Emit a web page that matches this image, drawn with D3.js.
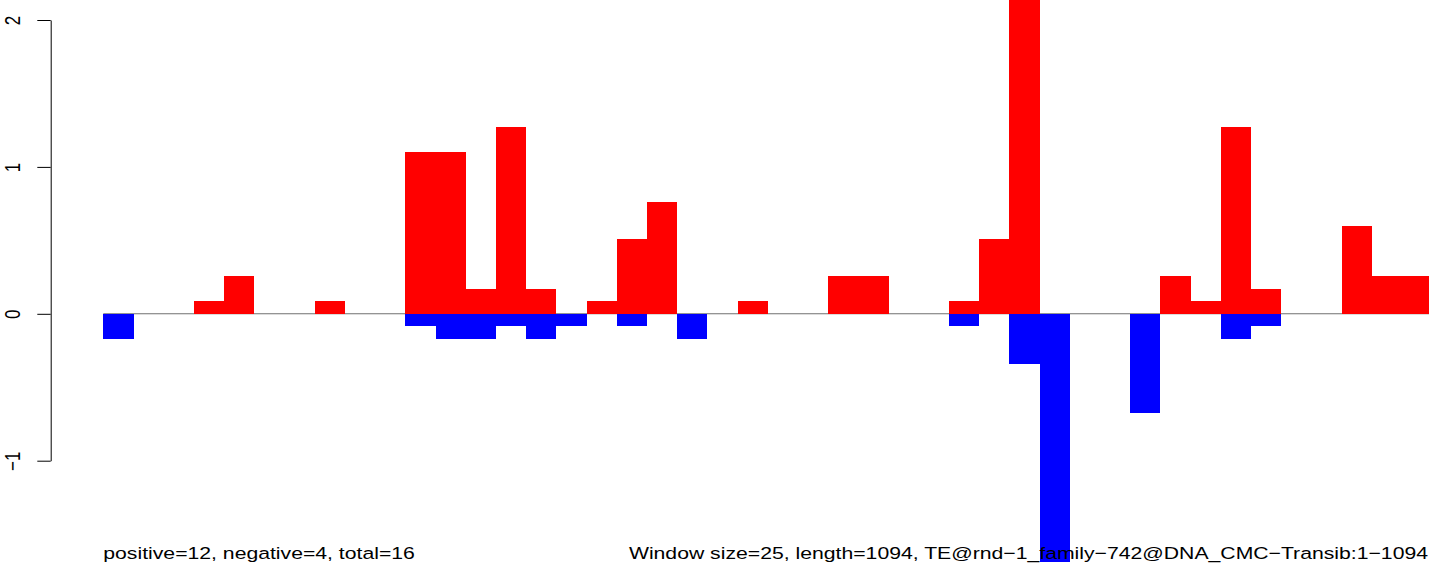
<!DOCTYPE html>
<html>
<head>
<meta charset="utf-8">
<script src="https://cdn.jsdelivr.net/npm/d3@7"></script>
<style>
  html, body { margin: 0; padding: 0; background: #fff; }
  svg { display: block; }
</style>
</head>
<body>
<script>
// ---- data ----
const windowSize = 25;
const seqLength = 1094;
const windowCount = 44;
const positive = [0,0,0,0.085,0.255,0,0,0.085,0,0,1.1,1.1,0.17,1.27,0.17,0,0.085,0.51,0.76,0,0,0.085,0,0,0.255,0.255,0,0,0.085,0.51,2.3,0,0,0,0,0.255,0.085,1.27,0.17,0,0,0.6,0.255,0.255];
const negative = [-0.17,0,0,0,0,0,0,0,0,0,-0.085,-0.17,-0.17,-0.085,-0.17,-0.085,0,-0.085,0,-0.17,0,0,0,0,0,0,0,0,-0.085,0,-0.34,-1.69,0,0,-0.675,0,0,-0.17,-0.085,0,0,0,0,0];
const yTicks = [-1, 0, 1, 2];
const leftLabel = "positive=12, negative=4, total=16";
const rightLabel = "Window size=25, length=1094, TE@rnd\u22121_family\u2212742@DNA_CMC\u2212Transib:1\u22121094";

// ---- layout ----
const W = 1429, H = 567;
const sx = 1.247;      // horizontal stretch of the original raster
const fs = 17;
const font = "'Liberation Sans', Arial, Helvetica, sans-serif";

const svg = d3.select("body").append("svg").attr("width", W).attr("height", H);

const x = d3.scaleLinear().domain([0, windowCount]).range([103.3, 1432.1]);
const y = d3.scaleLinear().domain([-1, 2]).range([460.7, 20]);

const idx = d3.range(windowCount);

// zero line
svg.append("line")
  .attr("x1", x(0)).attr("x2", W)
  .attr("y1", y(0)).attr("y2", y(0))
  .attr("stroke", "#707070").attr("stroke-width", 1.1);

// positive bars
svg.append("g").selectAll("rect").data(idx.filter(i => positive[i] > 0)).join("rect")
  .attr("x", i => x(i)).attr("width", i => x(i + 1) - x(i))
  .attr("y", i => y(positive[i])).attr("height", i => y(0) - y(positive[i]))
  .attr("fill", "#ff0000").attr("shape-rendering", "crispEdges");

// negative bars
svg.append("g").selectAll("rect").data(idx.filter(i => negative[i] < 0)).join("rect")
  .attr("x", i => x(i)).attr("width", i => x(i + 1) - x(i))
  .attr("y", y(0)).attr("height", i => y(negative[i]) - y(0))
  .attr("fill", "#0000ff").attr("shape-rendering", "crispEdges");

// y axis
const axisX = 50.7;
const ax = svg.append("g").attr("transform", `translate(${axisX},0)`)
  .call(d3.axisLeft(y).tickValues(yTicks).tickSize(13.4).tickSizeOuter(0).tickFormat(d3.format("d")));
ax.select(".domain").attr("stroke", "#000").attr("stroke-width", 1);
ax.selectAll(".tick line").attr("stroke", "#000").attr("stroke-width", 1);
ax.selectAll(".tick text")
  .attr("x", null).attr("dy", null)
  .attr("text-anchor", "middle")
  .attr("fill", "#000")
  .style("font-family", font).style("font-size", fs + "px")
  .attr("transform", `translate(${20 - axisX},0) scale(${sx},1) rotate(-90)`);

// bottom annotations
svg.append("text")
  .attr("transform", `translate(103.3,559.3) scale(${sx},1)`)
  .attr("text-anchor", "start")
  .style("font-family", font).style("font-size", fs + "px")
  .attr("fill", "#000")
  .text(leftLabel);

svg.append("text")
  .attr("transform", `translate(1428,559.3) scale(${sx},1)`)
  .attr("text-anchor", "end")
  .style("font-family", font).style("font-size", fs + "px")
  .attr("fill", "#000")
  .text(rightLabel);
</script>
</body>
</html>
